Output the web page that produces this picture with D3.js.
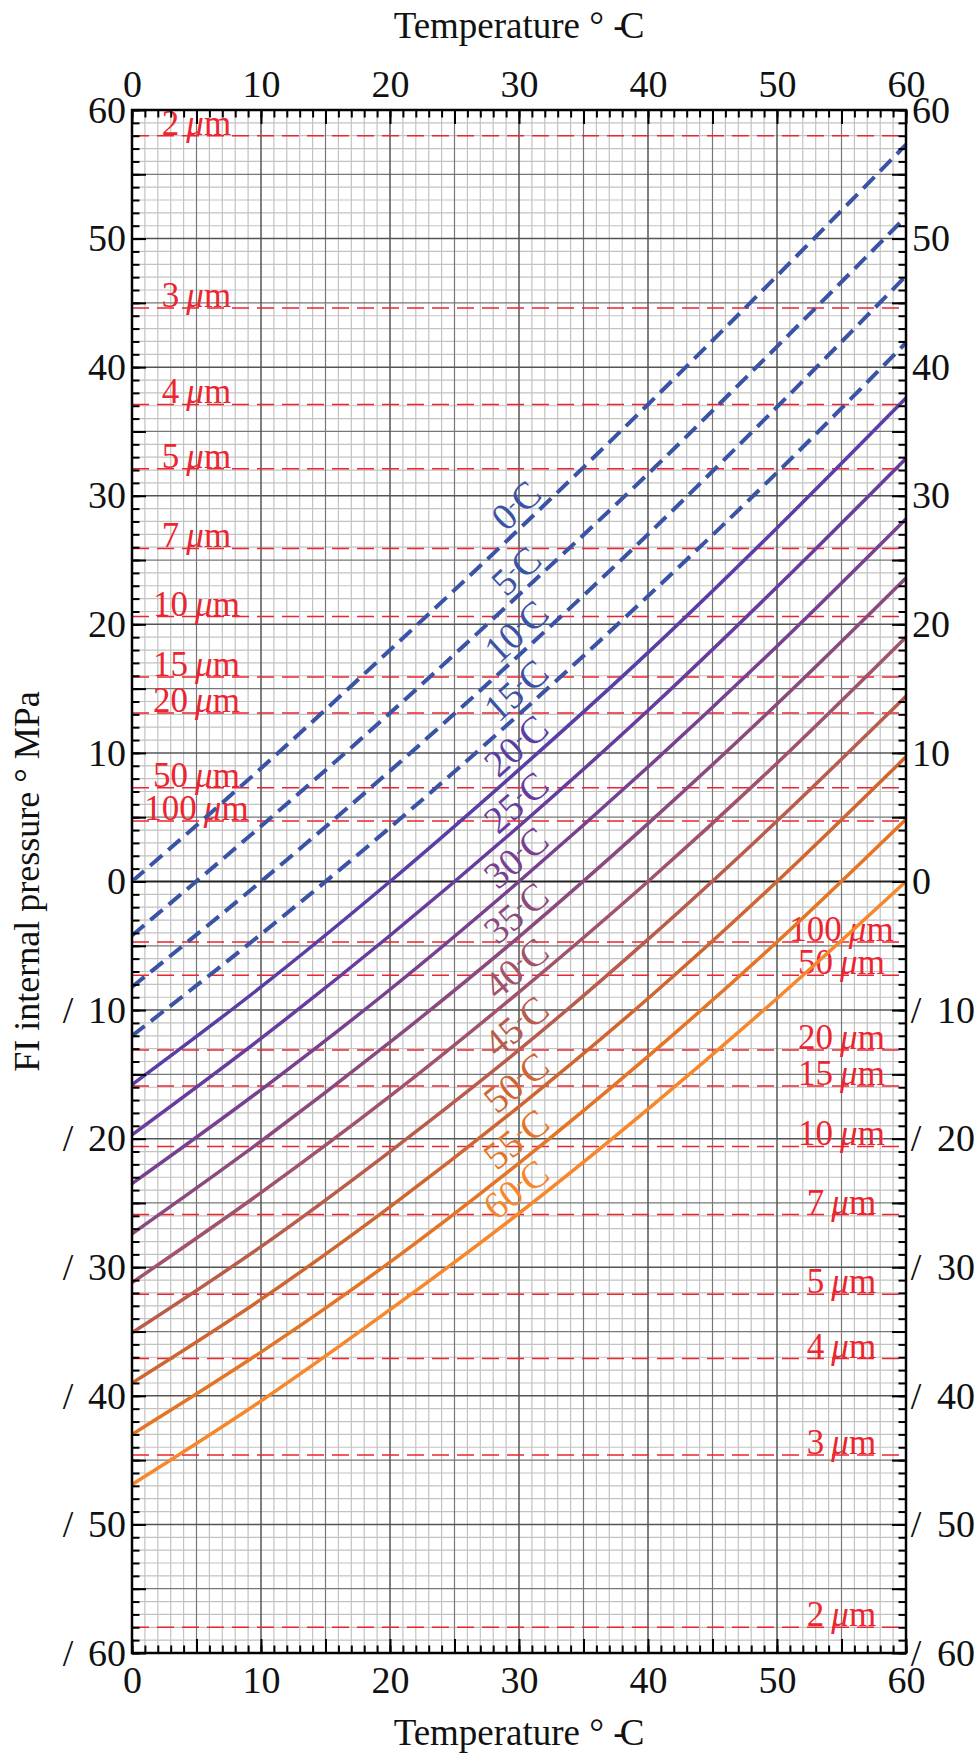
<!DOCTYPE html>
<html><head><meta charset="utf-8">
<script src="https://cdn.jsdelivr.net/npm/d3@7"></script>
<style>
body{margin:0;background:#fff}
svg{display:block}
text{font-family:"Liberation Serif","Times New Roman",serif !important}
</style>
</head><body>
<svg id="chart" width="977" height="1755"></svg>
<script>
// ---------- data ----------
const temperatures = [0, 10, 20, 30, 40, 50, 60];
const homogenizationTemps = [0, 5, 10, 15, 20, 25, 30, 35, 40, 45, 50, 55, 60];
const p_Th0  = [0.0, 8.8, 18.0, 27.4, 37.1, 47.1, 57.3];
const p_Th5  = [-4.2, 4.3, 13.1, 22.3, 31.7, 41.6, 51.7];
const p_Th10 = [-8.2, 0.0, 8.6, 17.6, 27.0, 36.9, 47.1];
const p_Th15 = [-12.0, -4.1, 4.2, 13.0, 22.2, 31.8, 41.9];
const p_Th20 = [-15.8, -8.2, 0.0, 8.7, 17.8, 27.5, 37.6];
const p_Th25 = [-19.7, -12.2, -4.2, 4.3, 13.3, 22.9, 32.9];
const p_Th30 = [-23.5, -16.2, -8.4, 0.0, 8.9, 18.3, 28.2];
const p_Th35 = [-27.4, -20.2, -12.5, -4.3, 4.5, 13.8, 23.6];
const p_Th40 = [-31.2, -24.2, -16.7, -8.6, 0.0, 9.2, 19.0];
const p_Th45 = [-35.1, -28.4, -21.0, -13.1, -4.5, 4.7, 14.4];
const p_Th50 = [-39.0, -32.5, -25.3, -17.5, -9.1, 0.0, 9.7];
const p_Th55 = [-43.0, -36.6, -29.6, -21.9, -13.6, -4.7, 4.85];
const p_Th60 = [-46.9, -40.4, -33.3, -25.8, -17.7, -9.1, 0.0];
const isochorePressures = [p_Th0, p_Th5, p_Th10, p_Th15, p_Th20, p_Th25, p_Th30,
                           p_Th35, p_Th40, p_Th45, p_Th50, p_Th55, p_Th60];
const curveColors = ["#3b53a5", "#3b53a5", "#3b53a5", "#3b53a5", "#5a3ea5", "#673c9d",
                     "#78418f", "#8a4a7e", "#a0536a", "#b85c4d", "#cf6632", "#e57526", "#f7872b"];
const dashedLimit = 15;

const bubbleSizes = ["2", "3", "4", "5", "7", "10", "15", "20", "50", "100"];
const bubblePressures = [58.0, 44.6, 37.1, 32.1, 25.9, 20.6, 15.9, 13.1, 7.3, 4.7];

const xTickLabels = [0, 10, 20, 30, 40, 50, 60];
const yTickLabels = [-60, -50, -40, -30, -20, -10, 0, 10, 20, 30, 40, 50, 60];
const xTitle = "Temperature";
const yTitle = "FI internal pressure ° MPa";

// ---------- layout ----------
const L = 132, R = 906, T = 110, B = 1653;
const x = d3.scaleLinear().domain([0, 60]).range([L, R]);
const y = d3.scaleLinear().domain([-60, 60]).range([B, T]);
const svg = d3.select("#chart");
const SERIF = '"Liberation Serif","Times New Roman",serif';

// grid
const grid = svg.append("g");
const minorX = d3.range(0, 61).filter(v => v % 5 !== 0);
const minorY = d3.range(-60, 61).filter(v => v % 5 !== 0);
const midX = d3.range(0, 61, 5).filter(v => v % 10 !== 0);
const midY = d3.range(-60, 61, 5).filter(v => v % 10 !== 0);
const majX = d3.range(0, 61, 10);
const majY = d3.range(-60, 61, 10);
function vlines(vals, color, w) {
  grid.append("g").selectAll("line").data(vals).join("line")
    .attr("x1", d => x(d)).attr("x2", d => x(d)).attr("y1", T).attr("y2", B)
    .attr("stroke", color).attr("stroke-width", w);
}
function hlines(vals, color, w) {
  grid.append("g").selectAll("line").data(vals).join("line")
    .attr("y1", d => y(d)).attr("y2", d => y(d)).attr("x1", L).attr("x2", R)
    .attr("stroke", color).attr("stroke-width", w);
}
vlines(minorX, "#c2c2c2", 1.2); hlines(minorY, "#c2c2c2", 1.2);
vlines(midX, "#777", 1.2); hlines(midY, "#777", 1.2);
vlines(majX, "#555", 1.5); hlines(majY.filter(v => v !== 0), "#555", 1.5);
hlines([0], "#222", 2);

// red bubble-size lines
const red = svg.append("g");
bubblePressures.forEach((p, i) => {
  [p, -p].forEach(v => {
    red.append("line").attr("x1", L).attr("x2", R).attr("y1", y(v)).attr("y2", y(v))
      .attr("stroke", "#ec2630").attr("stroke-width", 1.5).attr("stroke-dasharray", "17,8");
  });
  const addLabel = (tx, v) => {
    const t = red.append("text").attr("x", x(tx)).attr("y", y(v) - 1)
      .attr("text-anchor", "middle").attr("font-size", 35).attr("fill", "#ec2630")
      .style("font-family", SERIF);
    t.append("tspan").text(bubbleSizes[i] + "\u2009");
    t.append("tspan").attr("font-style", "italic").text("\u03bc");
    t.append("tspan").text("m");
  };
  addLabel(5, p);
  addLabel(55, -p);
});

// isochores
const line = d3.line().x(d => x(d[0])).y(d => y(d[1])).curve(d3.curveMonotoneX);
const curves = svg.append("g");
homogenizationTemps.forEach((th, i) => {
  const pts = temperatures.map((t, j) => [t, isochorePressures[i][j]]);
  const dashed = th <= dashedLimit;
  curves.append("path").attr("d", line(pts)).attr("fill", "none")
    .attr("stroke", curveColors[i]).attr("stroke-width", dashed ? 4 : 3.5)
    .attr("stroke-dasharray", dashed ? "16,8" : null);
  const p = isochorePressures[i];
  const ang = Math.atan2(y(p[4]) - y(p[2]), x(40) - x(20)) * 180 / Math.PI;
  const cx = x(30) - 3, cy = y(p[3]) - 24;
  const t = curves.append("text")
    .attr("transform", `translate(${cx},${cy}) rotate(${ang})`)
    .attr("text-anchor", "middle").attr("dominant-baseline", "central")
    .attr("font-size", 38).attr("fill", curveColors[i]).style("font-family", SERIF);
  t.append("tspan").text(th);
  t.append("tspan").attr("font-size", 22).attr("dy", -5).text("-");
  t.append("tspan").attr("dy", 5).text("C");
});

// frame
svg.append("rect").attr("x", L).attr("y", T).attr("width", R - L).attr("height", B - T)
  .attr("fill", "none").attr("stroke", "#000").attr("stroke-width", 2.5);

// axes (ticks inward)
const allX = d3.range(0, 61), allY = d3.range(-60, 61);
function styleAxis(g) {
  g.attr("font-family", null).attr("font-size", null);
  g.select(".domain").remove();
  g.selectAll(".tick line").attr("stroke", "#000").attr("stroke-width", 2);
  g.selectAll("text").attr("font-size", 38).attr("fill", "#111").style("font-family", SERIF);
}
const fmtAbs = d => Math.abs(d);
[[d3.axisTop(x), `translate(0,${T})`, allX, 7.5], [d3.axisBottom(x), `translate(0,${B})`, allX, 7.5],
 [d3.axisLeft(y), `translate(${L},0)`, allY, 7.5], [d3.axisRight(y), `translate(${R},0)`, allY, 7.5],
 [d3.axisTop(x), `translate(0,${T})`, d3.range(0, 61, 5), 14], [d3.axisBottom(x), `translate(0,${B})`, d3.range(0, 61, 5), 14],
 [d3.axisLeft(y), `translate(${L},0)`, d3.range(-60, 61, 5), 14], [d3.axisRight(y), `translate(${R},0)`, d3.range(-60, 61, 5), 14]]
.forEach(([ax, tr, vals, len]) => {
  svg.append("g").attr("transform", tr)
    .call(ax.tickValues(vals).tickSize(-len).tickFormat(""))
    .call(styleAxis);
});
const topAx = svg.append("g").attr("transform", `translate(0,${T})`)
  .call(d3.axisTop(x).tickValues(xTickLabels).tickSize(0).tickPadding(13)).call(styleAxis);
const botAx = svg.append("g").attr("transform", `translate(0,${B})`)
  .call(d3.axisBottom(x).tickValues(xTickLabels).tickSize(0).tickPadding(13)).call(styleAxis);
const leftAx = svg.append("g").attr("transform", `translate(${L},0)`)
  .call(d3.axisLeft(y).tickValues(yTickLabels).tickSize(0).tickPadding(6).tickFormat(fmtAbs)).call(styleAxis);
const rightAx = svg.append("g").attr("transform", `translate(${R},0)`)
  .call(d3.axisRight(y).tickValues(yTickLabels).tickSize(0).tickPadding(6).tickFormat(fmtAbs)).call(styleAxis);
// glitched minus signs shown as "/"
leftAx.selectAll(".tick").filter(d => d < 0).append("text")
  .attr("x", -64).attr("dy", "0.32em").attr("text-anchor", "middle")
  .attr("font-size", 38).attr("fill", "#111").style("font-family", SERIF).text("/");
rightAx.selectAll(".tick").filter(d => d < 0).select("text").attr("x", 31);
rightAx.selectAll(".tick").filter(d => d < 0).append("text")
  .attr("x", 10).attr("dy", "0.32em").attr("text-anchor", "middle")
  .attr("font-size", 38).attr("fill", "#111").style("font-family", SERIF).text("/");

// titles
function tempTitle(yy) {
  const t = svg.append("text").attr("x", (L + R) / 2).attr("y", yy)
    .attr("text-anchor", "middle").attr("font-size", 37).attr("fill", "#111")
    .style("font-family", SERIF);
  t.append("tspan").text(xTitle + " ° ");
  t.append("tspan").text("-");
  t.append("tspan").attr("dx", -6).text("C");
}
tempTitle(38);
tempTitle(1745);
svg.append("text").attr("transform", `translate(39,${(T + B) / 2}) rotate(-90)`)
  .attr("text-anchor", "middle").attr("font-size", 36).attr("fill", "#111")
  .style("font-family", SERIF).text(yTitle);
</script>
</body></html>
